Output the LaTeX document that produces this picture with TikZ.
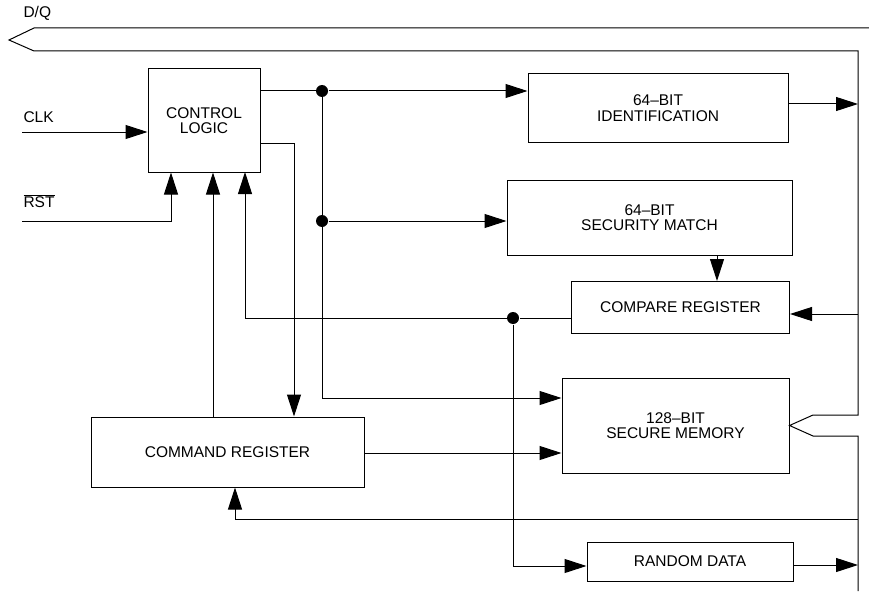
\documentclass[tikz,border=0pt]{standalone}
\usepackage{fontspec}
\setmainfont{Liberation Sans}
\usetikzlibrary{arrows.meta}
\begin{document}
\begin{tikzpicture}[x=1pt,y=-1pt,line width=1pt,
  blk/.style={draw,rectangle,inner sep=0pt,font=\fontsize{15.5}{15.5}\selectfont,align=center},
  lbl/.style={font=\fontsize{15.5}{15.5}\selectfont,inner sep=0pt,anchor=west},
  arr/.style={-{Triangle[length=22pt,width=14pt]}},
  dot/.style={circle,fill,inner sep=0pt,minimum size=12pt}]
\useasboundingbox (0,0) rectangle (869,591);
% boxes
\node[blk,minimum width=112pt,minimum height=103pt] (ctrl) at (204,120.5) {CONTROL\\LOGIC};
\node[blk,minimum width=260pt,minimum height=68pt] (id) at (658,108) {64--BIT\\IDENTIFICATION};
\node[blk,minimum width=285pt,minimum height=75pt] (sec) at (649.5,217.5) {64--BIT\\SECURITY MATCH};
\node[blk,minimum width=218pt,minimum height=52pt] (cmp) at (680.5,307.5) {COMPARE REGISTER};
\node[blk,minimum width=227pt,minimum height=95pt] (mem) at (675.5,425.5) {128--BIT\\SECURE MEMORY};
\node[blk,minimum width=273pt,minimum height=70pt] (cmd) at (227.5,452) {COMMAND REGISTER};
\node[blk,minimum width=206pt,minimum height=39pt] (rnd) at (690,561.5) {RANDOM DATA};
% labels
\node[lbl] (dq) at (23,13) {D/Q};
\node[lbl] (clk) at (23,117) {CLK};
\node[lbl] (rst) at (23,201) {$\overline{\mbox{RST}}$};
% coordinates
\coordinate (tip) at (9,40);
\coordinate (b1) at (34,28);
\coordinate (b1e) at (869,28);
\coordinate (b2) at (34,51);
\coordinate (bc) at (858,51);
\coordinate (m1) at (858,415);
\coordinate (m2) at (813,415);
\coordinate (m3) at (813,436);
\coordinate (m4) at (858,436);
\coordinate (bend) at (858,591);
\coordinate (clkin) at (22,132);
\coordinate (rstin) at (22,221);
\node[dot] (d1) at (322,91) {};
\node[dot] (d2) at (322,221) {};
\node[dot] (d3) at (513,318) {};
% bus
\draw (b1e) -- (b1) -- (tip) -- (b2) -- (bc) -- (m1) -- (m2) -- (mem.east) -- (m3) -- (m4) -- (bend);
% inputs
\draw[arr] (clkin) -- (clkin -| ctrl.west);
\draw[arr] (rstin) -| (ctrl.south -| 171,0);
% control outputs
\draw (ctrl.east |- d1) -- (d1);
\draw[arr] (d1) -- (id.west |- d1);
\draw[arr] (d2) -- (sec.west |- d2);
\draw[arr] (d1) -- (322,398) -- (mem.west |- 0,398);
\draw[arr] (ctrl.east |- 0,143) -| (cmd.north -| 294,0);
% id / sec / cmp
\draw[arr] (id.east |- 0,104) -- (858,104);
\draw[arr] (sec.south -| 717,0) -- (cmp.north -| 717,0);
\draw[arr] (858,314) -- (cmp.east |- 0,314);
\draw (cmp.west |- d3) -- (d3);
\draw[arr] (d3) -| (245,172);
\draw[arr] (d3) -- (513,566) -- (rnd.west |- 0,566);
\draw[arr] (rnd.east |- 0,565) -- (858,565);
% command register
\draw[arr] (cmd.north -| 213,0) -- (ctrl.south -| 213,0);
\draw[arr] (cmd.east |- 0,453) -- (mem.west |- 0,453);
\draw[arr] (858,519) -| (cmd.south -| 235,0);
\end{tikzpicture}
\end{document}
